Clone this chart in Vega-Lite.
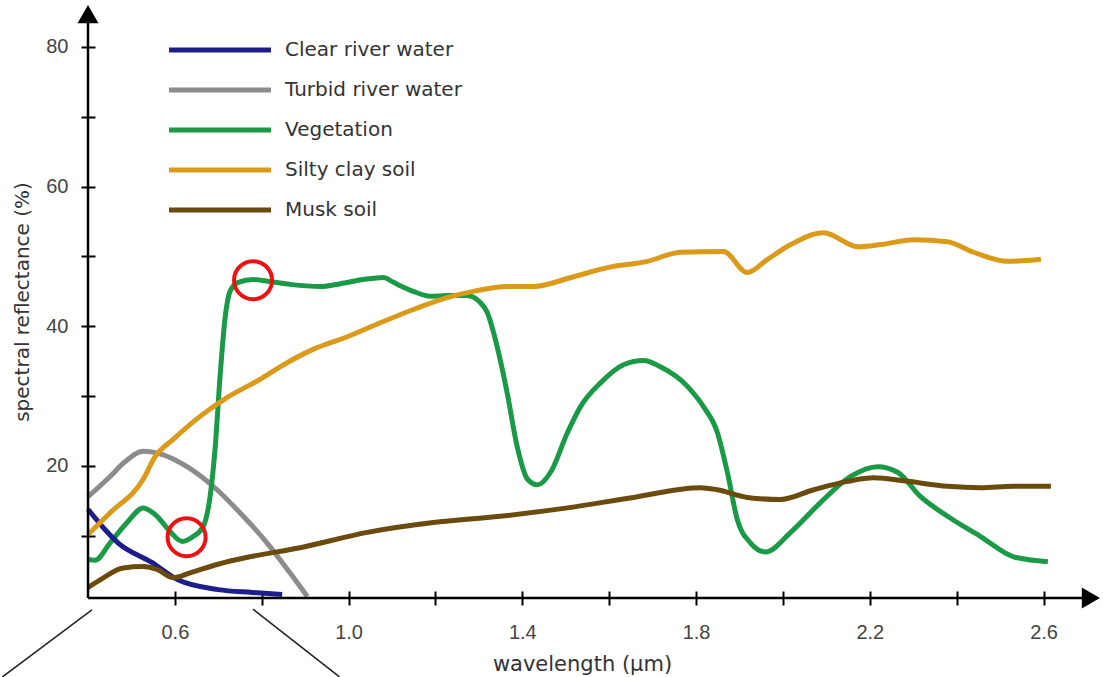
{
  "$schema": "https://vega.github.io/schema/vega-lite/v6.json",
  "width": 1012,
  "height": 593,
  "autosize": {"type": "none"},
  "padding": {"left": 88, "top": 5, "right": 3, "bottom": 79},
  "background": "white",
  "config": {"view": {"stroke": null}, "font": "DejaVu Sans"},
  "datasets": {
    "spectra": [
      {"material": "Turbid river water", "wl": 0.400, "refl": 15.6},
      {"material": "Turbid river water", "wl": 0.451, "refl": 18.5},
      {"material": "Turbid river water", "wl": 0.485, "refl": 20.6},
      {"material": "Turbid river water", "wl": 0.527, "refl": 22.1},
      {"material": "Turbid river water", "wl": 0.573, "refl": 21.6},
      {"material": "Turbid river water", "wl": 0.628, "refl": 19.9},
      {"material": "Turbid river water", "wl": 0.697, "refl": 16.6},
      {"material": "Turbid river water", "wl": 0.750, "refl": 13.3},
      {"material": "Turbid river water", "wl": 0.812, "refl": 9.0},
      {"material": "Turbid river water", "wl": 0.865, "refl": 4.7},
      {"material": "Turbid river water", "wl": 0.905, "refl": 1.3},

      {"material": "Vegetation", "wl": 0.400, "refl": 6.6},
      {"material": "Vegetation", "wl": 0.416, "refl": 6.5},
      {"material": "Vegetation", "wl": 0.451, "refl": 9.0},
      {"material": "Vegetation", "wl": 0.490, "refl": 11.9},
      {"material": "Vegetation", "wl": 0.527, "refl": 14.0},
      {"material": "Vegetation", "wl": 0.559, "refl": 12.8},
      {"material": "Vegetation", "wl": 0.589, "refl": 10.6},
      {"material": "Vegetation", "wl": 0.617, "refl": 9.2},
      {"material": "Vegetation", "wl": 0.642, "refl": 9.9},
      {"material": "Vegetation", "wl": 0.665, "refl": 11.3},
      {"material": "Vegetation", "wl": 0.681, "refl": 15.6},
      {"material": "Vegetation", "wl": 0.693, "refl": 22.8},
      {"material": "Vegetation", "wl": 0.704, "refl": 32.8},
      {"material": "Vegetation", "wl": 0.716, "refl": 41.4},
      {"material": "Vegetation", "wl": 0.727, "refl": 45.0},
      {"material": "Vegetation", "wl": 0.746, "refl": 46.3},
      {"material": "Vegetation", "wl": 0.780, "refl": 46.7},
      {"material": "Vegetation", "wl": 0.819, "refl": 46.4},
      {"material": "Vegetation", "wl": 0.865, "refl": 46.0},
      {"material": "Vegetation", "wl": 0.935, "refl": 45.7},
      {"material": "Vegetation", "wl": 0.981, "refl": 46.1},
      {"material": "Vegetation", "wl": 1.034, "refl": 46.7},
      {"material": "Vegetation", "wl": 1.080, "refl": 47.0},
      {"material": "Vegetation", "wl": 1.103, "refl": 46.3},
      {"material": "Vegetation", "wl": 1.149, "refl": 45.0},
      {"material": "Vegetation", "wl": 1.188, "refl": 44.3},
      {"material": "Vegetation", "wl": 1.227, "refl": 44.4},
      {"material": "Vegetation", "wl": 1.273, "refl": 44.4},
      {"material": "Vegetation", "wl": 1.303, "refl": 43.4},
      {"material": "Vegetation", "wl": 1.319, "refl": 42.0},
      {"material": "Vegetation", "wl": 1.342, "refl": 37.1},
      {"material": "Vegetation", "wl": 1.365, "refl": 30.5},
      {"material": "Vegetation", "wl": 1.388, "refl": 22.8},
      {"material": "Vegetation", "wl": 1.412, "refl": 18.1},
      {"material": "Vegetation", "wl": 1.435, "refl": 17.3},
      {"material": "Vegetation", "wl": 1.465, "refl": 19.1},
      {"material": "Vegetation", "wl": 1.504, "refl": 24.8},
      {"material": "Vegetation", "wl": 1.534, "refl": 28.5},
      {"material": "Vegetation", "wl": 1.580, "refl": 31.9},
      {"material": "Vegetation", "wl": 1.633, "refl": 34.5},
      {"material": "Vegetation", "wl": 1.679, "refl": 35.1},
      {"material": "Vegetation", "wl": 1.718, "refl": 34.2},
      {"material": "Vegetation", "wl": 1.780, "refl": 31.4},
      {"material": "Vegetation", "wl": 1.817, "refl": 28.5},
      {"material": "Vegetation", "wl": 1.849, "refl": 24.8},
      {"material": "Vegetation", "wl": 1.872, "refl": 19.1},
      {"material": "Vegetation", "wl": 1.895, "refl": 12.3},
      {"material": "Vegetation", "wl": 1.925, "refl": 9.0},
      {"material": "Vegetation", "wl": 1.960, "refl": 7.7},
      {"material": "Vegetation", "wl": 2.018, "refl": 10.5},
      {"material": "Vegetation", "wl": 2.087, "refl": 14.8},
      {"material": "Vegetation", "wl": 2.156, "refl": 18.5},
      {"material": "Vegetation", "wl": 2.218, "refl": 19.9},
      {"material": "Vegetation", "wl": 2.264, "refl": 19.1},
      {"material": "Vegetation", "wl": 2.317, "refl": 15.6},
      {"material": "Vegetation", "wl": 2.379, "refl": 12.8},
      {"material": "Vegetation", "wl": 2.455, "refl": 9.9},
      {"material": "Vegetation", "wl": 2.531, "refl": 7.0},
      {"material": "Vegetation", "wl": 2.610, "refl": 6.3},

      {"material": "Clear river water", "wl": 0.400, "refl": 13.8},
      {"material": "Clear river water", "wl": 0.439, "refl": 10.9},
      {"material": "Clear river water", "wl": 0.469, "refl": 9.0},
      {"material": "Clear river water", "wl": 0.547, "refl": 6.2},
      {"material": "Clear river water", "wl": 0.607, "refl": 3.7},
      {"material": "Clear river water", "wl": 0.700, "refl": 2.3},
      {"material": "Clear river water", "wl": 0.778, "refl": 1.9},
      {"material": "Clear river water", "wl": 0.847, "refl": 1.6},

      {"material": "Musk soil", "wl": 0.400, "refl": 2.6},
      {"material": "Musk soil", "wl": 0.428, "refl": 3.7},
      {"material": "Musk soil", "wl": 0.481, "refl": 5.4},
      {"material": "Musk soil", "wl": 0.527, "refl": 5.6},
      {"material": "Musk soil", "wl": 0.559, "refl": 5.2},
      {"material": "Musk soil", "wl": 0.596, "refl": 4.0},
      {"material": "Musk soil", "wl": 0.635, "refl": 4.7},
      {"material": "Musk soil", "wl": 0.697, "refl": 5.9},
      {"material": "Musk soil", "wl": 0.773, "refl": 7.0},
      {"material": "Musk soil", "wl": 0.888, "refl": 8.3},
      {"material": "Musk soil", "wl": 1.043, "refl": 10.5},
      {"material": "Musk soil", "wl": 1.195, "refl": 11.9},
      {"material": "Musk soil", "wl": 1.349, "refl": 12.8},
      {"material": "Musk soil", "wl": 1.504, "refl": 14.0},
      {"material": "Musk soil", "wl": 1.656, "refl": 15.5},
      {"material": "Musk soil", "wl": 1.810, "refl": 16.9},
      {"material": "Musk soil", "wl": 1.849, "refl": 16.6},
      {"material": "Musk soil", "wl": 1.918, "refl": 15.5},
      {"material": "Musk soil", "wl": 1.994, "refl": 15.2},
      {"material": "Musk soil", "wl": 2.071, "refl": 16.6},
      {"material": "Musk soil", "wl": 2.149, "refl": 17.8},
      {"material": "Musk soil", "wl": 2.209, "refl": 18.3},
      {"material": "Musk soil", "wl": 2.287, "refl": 17.8},
      {"material": "Musk soil", "wl": 2.379, "refl": 17.1},
      {"material": "Musk soil", "wl": 2.455, "refl": 16.9},
      {"material": "Musk soil", "wl": 2.531, "refl": 17.1},
      {"material": "Musk soil", "wl": 2.617, "refl": 17.1},

      {"material": "Silty clay soil", "wl": 0.400, "refl": 10.2},
      {"material": "Silty clay soil", "wl": 0.451, "refl": 13.3},
      {"material": "Silty clay soil", "wl": 0.527, "refl": 18.1},
      {"material": "Silty clay soil", "wl": 0.554, "refl": 21.3},
      {"material": "Silty clay soil", "wl": 0.596, "refl": 23.8},
      {"material": "Silty clay soil", "wl": 0.658, "refl": 27.1},
      {"material": "Silty clay soil", "wl": 0.720, "refl": 29.8},
      {"material": "Silty clay soil", "wl": 0.796, "refl": 32.4},
      {"material": "Silty clay soil", "wl": 0.842, "refl": 34.2},
      {"material": "Silty clay soil", "wl": 0.918, "refl": 36.7},
      {"material": "Silty clay soil", "wl": 0.997, "refl": 38.5},
      {"material": "Silty clay soil", "wl": 1.073, "refl": 40.5},
      {"material": "Silty clay soil", "wl": 1.149, "refl": 42.4},
      {"material": "Silty clay soil", "wl": 1.227, "refl": 44.1},
      {"material": "Silty clay soil", "wl": 1.287, "refl": 45.0},
      {"material": "Silty clay soil", "wl": 1.365, "refl": 45.7},
      {"material": "Silty clay soil", "wl": 1.425, "refl": 45.7},
      {"material": "Silty clay soil", "wl": 1.518, "refl": 47.1},
      {"material": "Silty clay soil", "wl": 1.596, "refl": 48.4},
      {"material": "Silty clay soil", "wl": 1.688, "refl": 49.3},
      {"material": "Silty clay soil", "wl": 1.764, "refl": 50.6},
      {"material": "Silty clay soil", "wl": 1.863, "refl": 50.7},
      {"material": "Silty clay soil", "wl": 1.918, "refl": 47.7},
      {"material": "Silty clay soil", "wl": 1.965, "refl": 49.6},
      {"material": "Silty clay soil", "wl": 2.018, "refl": 51.7},
      {"material": "Silty clay soil", "wl": 2.094, "refl": 53.4},
      {"material": "Silty clay soil", "wl": 2.172, "refl": 51.4},
      {"material": "Silty clay soil", "wl": 2.225, "refl": 51.7},
      {"material": "Silty clay soil", "wl": 2.301, "refl": 52.4},
      {"material": "Silty clay soil", "wl": 2.379, "refl": 52.1},
      {"material": "Silty clay soil", "wl": 2.439, "refl": 50.6},
      {"material": "Silty clay soil", "wl": 2.518, "refl": 49.3},
      {"material": "Silty clay soil", "wl": 2.594, "refl": 49.6}
    ],
    "highlights": [
      {"wl": 0.780, "refl": 46.6},
      {"wl": 0.627, "refl": 9.8}
    ]
  },
  "layer": [
    {
      "data": {"name": "spectra"},
      "mark": {"type": "line", "strokeWidth": 5, "interpolate": "monotone"},
      "encoding": {
        "x": {
          "field": "wl", "type": "quantitative",
          "scale": {"domain": [0.4, 2.73], "nice": false, "zero": false},
          "axis": {
            "title": "wavelength (µm)",
            "values": [0.6, 0.8, 1.0, 1.2, 1.4, 1.6, 1.8, 2.0, 2.2, 2.4, 2.6],
            "format": ".1f",
            "labelExpr": "(round(datum.value*10)-2)%4==0 ? datum.label : ''",
            "domain": false, "grid": false,
            "offset": -7, "tickSize": 14, "tickColor": "black", "tickWidth": 2,
            "labelFont": "Liberation Sans", "labelFontSize": 20, "labelColor": "#444",
            "labelPadding": 17, "labelOverlap": false,
            "titleFont": "DejaVu Sans", "titleFontSize": 21, "titleFontWeight": "normal",
            "titleColor": "#333", "titlePadding": 11, "titleX": 494
          }
        },
        "y": {
          "field": "refl", "type": "quantitative",
          "scale": {"domain": [1.1, 86], "nice": false, "zero": false},
          "axis": {
            "title": "spectral reflectance (%)",
            "values": [10, 20, 30, 40, 50, 60, 70, 80],
            "labelExpr": "datum.value%20==0 ? datum.label : ''",
            "domain": false, "grid": false,
            "offset": -7, "tickSize": 14, "tickColor": "black", "tickWidth": 2,
            "labelFont": "Liberation Sans", "labelFontSize": 20, "labelColor": "#444",
            "labelPadding": 13, "labelOverlap": false,
            "titleFont": "DejaVu Sans", "titleFontSize": 20, "titleFontWeight": "normal",
            "titleColor": "#333", "titlePadding": 13
          }
        },
        "color": {
          "field": "material", "type": "nominal",
          "scale": {
            "domain": ["Clear river water", "Turbid river water", "Vegetation", "Silty clay soil", "Musk soil"],
            "range": ["#1e1e8a", "#8c8c8c", "#1a9a46", "#dc9a1a", "#6b4a0e"]
          },
          "legend": {
            "title": null, "orient": "none", "legendX": 119, "legendY": 32,
            "symbolType": "M-4.857,0H4.857", "symbolSize": 441, "symbolStrokeWidth": 5,
            "symbolFillColor": "transparent",
            "padding": 0, "rowPadding": 17,
            "labelFont": "DejaVu Sans", "labelFontSize": 20, "labelColor": "#333",
            "labelOffset": 52, "labelLimit": 400
          }
        }
      }
    },
    {
      "data": {"name": "highlights"},
      "mark": {"type": "point", "filled": false, "color": "#ee1111", "strokeWidth": 4, "size": 1444, "opacity": 1},
      "encoding": {
        "x": {"field": "wl", "type": "quantitative"},
        "y": {"field": "refl", "type": "quantitative"}
      }
    },
    {
      "data": {"values": [{}]},
      "mark": {"type": "rule", "color": "black", "strokeWidth": 2.5},
      "encoding": {"x": {"datum": 0.4}, "y": {"datum": 1.1}, "x2": {"datum": 2.72}}
    },
    {
      "data": {"values": [{}]},
      "mark": {"type": "rule", "color": "black", "strokeWidth": 2.5},
      "encoding": {"x": {"datum": 0.4}, "y": {"datum": 1.1}, "y2": {"datum": 85.5}}
    },
    {
      "data": {"values": [{}]},
      "mark": {"type": "point", "shape": "triangle-up", "filled": true, "color": "black", "size": 441, "opacity": 1},
      "encoding": {"x": {"datum": 0.4}, "y": {"datum": 84.7}}
    },
    {
      "data": {"values": [{}]},
      "mark": {"type": "point", "shape": "triangle-right", "filled": true, "color": "black", "size": 441, "opacity": 1},
      "encoding": {"x": {"datum": 2.709}, "y": {"datum": 1.1}}
    },
    {
      "data": {"values": [{}]},
      "mark": {"type": "rule", "color": "#222", "strokeWidth": 1.5},
      "encoding": {"x": {"datum": 0.409}, "y": {"datum": -0.6}, "x2": {"datum": 0.203}, "y2": {"datum": -10.2}}
    },
    {
      "data": {"values": [{}]},
      "mark": {"type": "rule", "color": "#222", "strokeWidth": 1.5},
      "encoding": {"x": {"datum": 0.780}, "y": {"datum": -0.5}, "x2": {"datum": 0.979}, "y2": {"datum": -10.2}}
    }
  ]
}
